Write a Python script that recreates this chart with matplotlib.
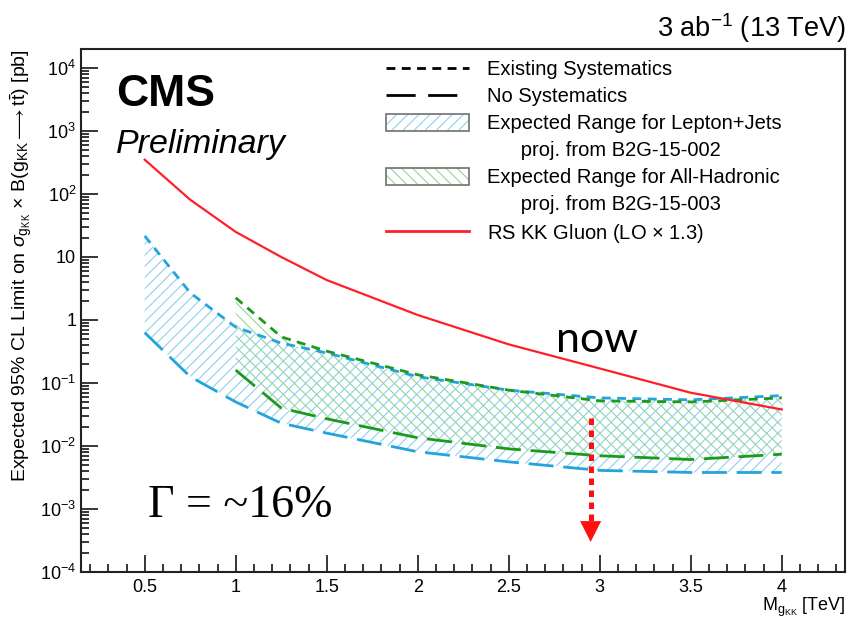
import numpy as np
import matplotlib
matplotlib.use("Agg")
import matplotlib.pyplot as plt
from matplotlib.lines import Line2D
from matplotlib.patches import Patch
from matplotlib.ticker import FixedLocator, MultipleLocator, LogLocator, NullFormatter, FuncFormatter

plt.rcParams["font.family"] = ["Liberation Sans", "DejaVu Sans"]
plt.rcParams["mathtext.fontset"] = "custom"
plt.rcParams["mathtext.rm"] = "Liberation Sans"
plt.rcParams["mathtext.it"] = "Liberation Sans:italic"
plt.rcParams["mathtext.bf"] = "Liberation Sans:bold"
plt.rcParams["hatch.linewidth"] = 0.8

# limits vs. KK gluon mass [TeV]
mass_lj = [0.5, 0.75, 1.0, 1.25, 1.5, 2.0, 2.5, 3.0, 3.5, 4.0]
lj_syst = [21.6, 2.7, 0.77, 0.43, 0.30, 0.126, 0.077, 0.058, 0.054, 0.063]
lj_nosyst = [0.63, 0.126, 0.05, 0.023, 0.016, 0.0081, 0.0056, 0.0041, 0.0038, 0.0038]

mass_had = [1.0, 1.25, 1.5, 2.0, 2.5, 3.0, 3.5, 4.0]
had_syst = [2.25, 0.54, 0.32, 0.135, 0.077, 0.052, 0.05, 0.058]
had_nosyst = [0.16, 0.04, 0.027, 0.0135, 0.009, 0.007, 0.0061, 0.0074]

mass_th = [0.5, 0.75, 1.0, 1.25, 1.5, 2.0, 2.5, 3.0, 3.5, 4.0]
xsec_th = [350, 81, 25, 10, 4.3, 1.2, 0.41, 0.17, 0.07, 0.038]

arrow_mass = 2.95
arrow_top, arrow_tip = 0.028, 3e-4

BLUE = "#22a4dc"
GREEN = "#1b9a1b"
RED = "#ff1f2a"
SHORT = (3.2, 2.3)
LONG = (9.0, 3.5)

fig = plt.figure(figsize=(8.48, 6.2), dpi=100)
ax = fig.add_axes([81 / 848, 1 - 572 / 620, 1 - 81 / 848 - 0.003, (572 - 49) / 620])

ax.fill_between(mass_lj, lj_nosyst, lj_syst, facecolor="none", edgecolor="#8fd0ee",
                hatch="///", linewidth=0)
ax.fill_between(mass_had, had_nosyst, had_syst, facecolor="none", edgecolor="#93d59c",
                hatch="\\\\\\", linewidth=0)

ax.plot(mass_lj, lj_syst, color=BLUE, lw=2, dashes=SHORT)
ax.plot(mass_lj, lj_nosyst, color=BLUE, lw=2, dashes=LONG)
ax.plot(mass_had, had_syst, color=GREEN, lw=2, dashes=SHORT)
ax.plot(mass_had, had_nosyst, color=GREEN, lw=2, dashes=LONG)
ax.plot(mass_th, xsec_th, color=RED, lw=1.6)

ax.set_yscale("log")
ax.set_xlim(0.15, 4.35)
ax.set_ylim(1e-4, 2e4)

ax.xaxis.set_major_locator(MultipleLocator(0.5))
ax.xaxis.set_minor_locator(MultipleLocator(0.1))
ax.xaxis.set_major_formatter(FuncFormatter(lambda v, p: "" if v < 0.4 or v > 4.1 else f"{v:g}"))
ax.yaxis.set_major_locator(FixedLocator([10.0 ** k for k in range(-4, 5)]))
ax.yaxis.set_minor_locator(LogLocator(base=10, subs=np.arange(2, 10), numticks=20))
ax.yaxis.set_minor_formatter(NullFormatter())


def ylab(v, pos):
    k = int(round(np.log10(v)))
    if k == 0:
        return "1"
    if k == 1:
        return "10"
    return r"$10^{%d}$" % k


ax.yaxis.set_major_formatter(FuncFormatter(ylab))
ax.tick_params(which="both", direction="in", top=False, right=False, labelsize=13, width=1.1)
ax.tick_params(which="major", length=12)
ax.tick_params(which="minor", length=6)
ax.tick_params(axis="x", pad=5)
for s in ax.spines.values():
    s.set_linewidth(1.5)
    s.set_color("#222222")

ax.set_ylabel(r"Expected 95% CL Limit on $\sigma_{\mathrm{g_{KK}}}$ $\times$ "
              r"B($\mathrm{g_{KK}}$$\longrightarrow$t$\bar{\mathrm{t}}$) [pb]",
              fontsize=14, loc="top", labelpad=4)
ax.set_xlabel(r"M$_{\mathrm{g_{KK}}}$ [TeV]", fontsize=13, loc="right", labelpad=0)

fig.text(0.997, 0.955, r"3 ab$^{-1}$ (13 TeV)", fontsize=19.5, ha="right", va="center")
ax.text(0.046, 0.913, "CMS", transform=ax.transAxes, fontsize=32, fontweight="bold",
        ha="left", va="center")
ax.text(0.046, 0.818, "Preliminary", transform=ax.transAxes, fontsize=24.5, style="italic",
        ha="left", va="center")

# legend
frame_box = Patch(facecolor="none", edgecolor="#707070", linewidth=1.2)
handles = [
    Line2D([], [], color="black", lw=2, dashes=SHORT),
    Line2D([], [], color="black", lw=2, dashes=(10.5, 4.5)),
    (Patch(facecolor="white", edgecolor="#8fd0ee", hatch="///", linewidth=0), frame_box),
    Line2D([], [], linestyle="none"),
    (Patch(facecolor="white", edgecolor="#93d59c", hatch="\\\\\\", linewidth=0), frame_box),
    Line2D([], [], linestyle="none"),
    Line2D([], [], color=RED, lw=2),
]
labels = [
    "Existing Systematics",
    "No Systematics",
    "Expected Range for Lepton+Jets",
    "      proj. from B2G-15-002",
    "Expected Range for All-Hadronic",
    "      proj. from B2G-15-003",
    r"RS KK Gluon (LO $\times$ 1.3)",
]
ax.legend(handles, labels, loc="upper left", bbox_to_anchor=(0.399, 0.979), frameon=False,
          fontsize=14.5, handlelength=4.1, handleheight=0.9, handletextpad=0.9,
          labelspacing=0.38, borderpad=0, borderaxespad=0)

# annotations
ax.text(0.52, 7.4e-4, "Γ = ~16%", fontsize=33, family="Liberation Serif", ha="left", va="baseline")
ax.text(2.76, 0.31, "now", fontsize=31, family="Lato", ha="left", va="baseline")
ax.plot([arrow_mass, arrow_mass], [arrow_top, 6e-4], color="#ff1010", lw=3.6,
        dashes=(1.3, 1.1), dash_capstyle="butt")
ax.annotate("", xy=(arrow_mass, arrow_tip), xytext=(arrow_mass, 6.5e-4),
            arrowprops=dict(arrowstyle="-|>,head_length=0.75,head_width=0.38", color="#ff1010",
                            lw=0, mutation_scale=20, shrinkA=0, shrinkB=0))

fig.savefig("out.png", dpi=100)
